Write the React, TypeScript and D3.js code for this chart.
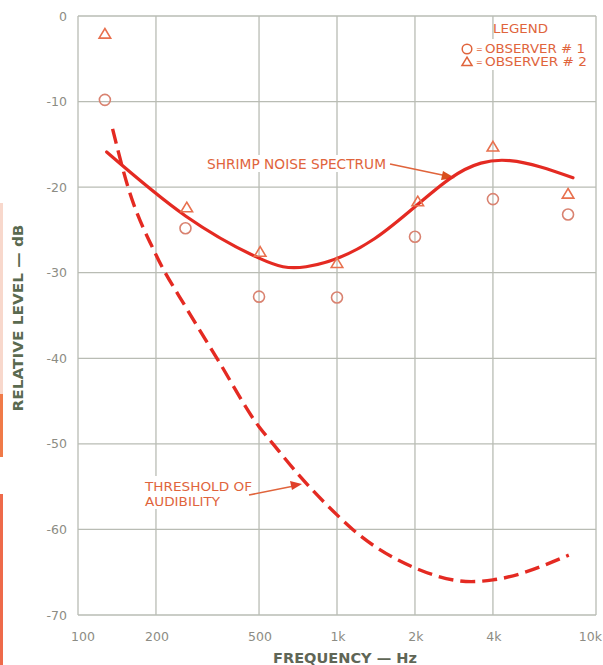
import React from "react";
import * as d3 from "d3";

const W = 603;
const H = 665;

const xTicks = [100, 200, 500, 1000, 2000, 4000, 10000];
const xTickLabels = ["100", "200", "500", "1k", "2k", "4k", "10k"];
const yTicks = [0, -10, -20, -30, -40, -50, -60, -70];
const yTickLabels = ["0", "-10", "-20", "-30", "-40", "-50", "-60", "-70"];

const obs1Freq = [127, 260, 500, 1000, 2000, 4000, 7800];
const obs1Level = [-9.8, -24.8, -32.8, -32.9, -25.8, -21.4, -23.2];
const obs2Freq = [127, 263, 505, 1000, 2050, 4000, 7800];
const obs2Level = [-2.1, -22.4, -27.6, -28.9, -21.7, -15.3, -20.8];

const shrimpFreq = [129, 261, 500, 760, 1400, 2730, 4650, 8150];
const shrimpLevel = [-15.9, -23.4, -28.3, -29.3, -26.0, -19.0, -16.9, -18.9];

const threshFreq = [136, 156, 200, 264, 344, 500, 566, 720, 1000, 1150, 2000, 3300, 4000, 7850];
const threshLevel = [-13.2, -20, -27.9, -34.3, -40, -48, -50, -53.8, -58.3, -60, -64.5, -66.1, -65.9, -63];

const FONT = "'DejaVu Sans', sans-serif";

export default function App() {
  const x = d3.scaleLog().domain([100, 10000]).range([78, 596]);
  const y = d3.scaleLinear().domain([0, -70]).range([16, 615]);

  const shrimpLine = d3
    .line<[number, number]>()
    .x((d) => x(d[0]))
    .y((d) => y(d[1]))
    .curve(d3.curveNatural);
  const threshLine = d3
    .line<[number, number]>()
    .x((d) => x(d[0]))
    .y((d) => y(d[1]))
    .curve(d3.curveMonotoneX);

  const shrimp = shrimpLine(shrimpFreq.map((f, i) => [f, shrimpLevel[i]] as [number, number])) || "";
  const thresh = threshLine(threshFreq.map((f, i) => [f, threshLevel[i]] as [number, number])) || "";

  const gridColor = "#b9bcb4";
  const labelColor = "#8c8c84";
  const annColor = "#e0643c";
  const curveColor = "#e42a22";
  const circColor = "#d98270";
  const triColor = "#e8704e";

  const tri = (cx: number, cy: number, s: number) =>
    `M${cx},${cy - s}L${cx + s * 1.05},${cy + s * 0.75}L${cx - s * 1.05},${cy + s * 0.75}Z`;

  return (
    <div style={{ position: "absolute", left: 0, top: 0 }}>
      <svg width={W} height={H} style={{ display: "block", background: "#fff" }}>
        {/* scan edge strip */}
        <rect x={0} y={203} width={3} height={191} fill="#f8d8cc" />
        <rect x={0} y={394} width={3} height={63} fill="#f07a48" />
        <rect x={0} y={494} width={3} height={171} fill="#ee6a4a" />

        {/* grid */}
        {xTicks.map((t) => (
          <line key={"gx" + t} x1={x(t)} x2={x(t)} y1={y(0)} y2={y(-70)} stroke={gridColor} strokeWidth={1.3} />
        ))}
        {yTicks.map((t) => (
          <line key={"gy" + t} x1={x(100)} x2={x(10000)} y1={y(t)} y2={y(t)} stroke={gridColor} strokeWidth={1.3} />
        ))}

        {/* tick labels */}
        {yTicks.map((t, i) => (
          <text key={"ty" + t} x={67} y={y(t)} dy="0.36em" textAnchor="end" fontFamily={FONT} fontSize={12.5} fill={labelColor}>
            {yTickLabels[i]}
          </text>
        ))}
        {xTicks.map((t, i) => (
          <text
            key={"tx" + t}
            x={i === 6 ? 602 : x(t) + (i === 0 ? 5 : 1)}
            y={641}
            textAnchor={i === 6 ? "end" : "middle"}
            fontFamily={FONT}
            fontSize={12.5}
            fill={labelColor}
          >
            {xTickLabels[i]}
          </text>
        ))}

        {/* axis titles */}
        <text x={345} y={663} textAnchor="middle" fontFamily={FONT} fontWeight="bold" fontSize={14} fill="#5f6656" textLength={144} lengthAdjust="spacingAndGlyphs">
          FREQUENCY — Hz
        </text>
        <text transform="translate(23,318) rotate(-90)" textAnchor="middle" fontFamily={FONT} fontWeight="bold" fontSize={13.5} fill="#5a6a50" textLength={187} lengthAdjust="spacingAndGlyphs">
          RELATIVE LEVEL — dB
        </text>

        {/* legend */}
        <rect x={460} y={39} width={130} height={31} fill="#fff" />
        <text x={493} y={33} fontFamily={FONT} fontSize={12} fill={annColor} textLength={55} lengthAdjust="spacingAndGlyphs">
          LEGEND
        </text>
        <circle cx={467} cy={49} r={4.8} fill="none" stroke={annColor} strokeWidth={1.5} />
        <text x={476} y={52} fontFamily={FONT} fontSize={8} fill={annColor}>=</text>
        <text x={485} y={53} fontFamily={FONT} fontSize={11.5} fill={annColor} textLength={100} lengthAdjust="spacingAndGlyphs">
          OBSERVER # 1
        </text>
        <path d={tri(467, 62, 4.8)} fill="none" stroke={annColor} strokeWidth={1.5} />
        <text x={476} y={65} fontFamily={FONT} fontSize={8} fill={annColor}>=</text>
        <text x={485} y={66} fontFamily={FONT} fontSize={11.5} fill={annColor} textLength={102} lengthAdjust="spacingAndGlyphs">
          OBSERVER # 2
        </text>

        {/* annotation: shrimp */}
        <rect x={204} y={155} width={185} height={17} fill="#fff" />
        <text x={207} y={169} fontFamily={FONT} fontSize={14} fill={annColor} textLength={179} lengthAdjust="spacingAndGlyphs">
          SHRIMP NOISE SPECTRUM
        </text>
        <line x1={390} y1={164} x2={447} y2={176} stroke={annColor} strokeWidth={1.6} />
        <path d="M455,178 L443,171 L441,180 Z" fill="#d8501e" />

        {/* annotation: threshold */}
        <rect x={142} y={476} width={113} height={33} fill="#fff" />
        <text x={145} y={491} fontFamily={FONT} fontSize={12.5} fill={annColor} textLength={107} lengthAdjust="spacingAndGlyphs">
          THRESHOLD OF
        </text>
        <text x={145} y={506} fontFamily={FONT} fontSize={12.5} fill={annColor} textLength={75} lengthAdjust="spacingAndGlyphs">
          AUDIBILITY
        </text>
        <line x1={249} y1={495} x2={294} y2={486} stroke={annColor} strokeWidth={1.6} />
        <path d="M302,484 L290,481 L292,490 Z" fill="#e0402a" />

        {/* curves */}
        <path d={shrimp} fill="none" stroke={curveColor} strokeWidth={3.2} strokeLinecap="round" />
        <path d={thresh} fill="none" stroke={curveColor} strokeWidth={3.4} strokeDasharray="15 7" strokeLinecap="butt" />

        {/* observations */}
        {obs1Freq.map((f, i) => (
          <circle key={"o1" + i} cx={x(f)} cy={y(obs1Level[i])} r={5.5} fill="none" stroke={circColor} strokeWidth={1.6} />
        ))}
        {obs2Freq.map((f, i) => (
          <path key={"o2" + i} d={tri(x(f), y(obs2Level[i]), 5.5)} fill="none" stroke={triColor} strokeWidth={1.6} />
        ))}
      </svg>
    </div>
  );
}
